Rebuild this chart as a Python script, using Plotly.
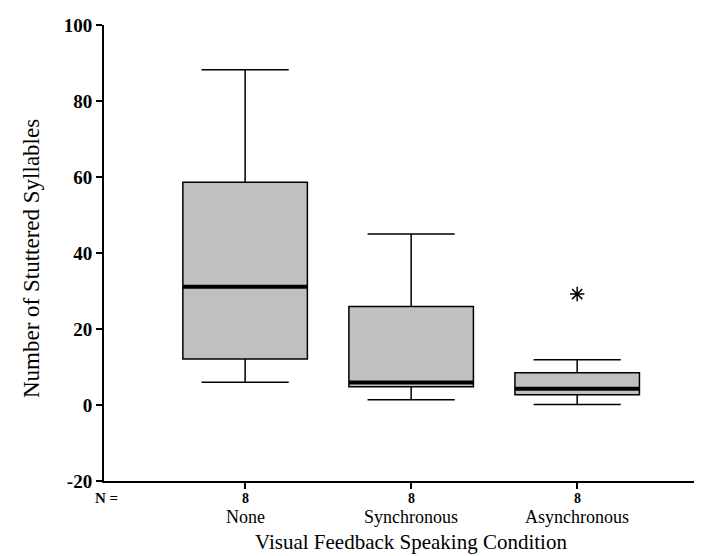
import plotly.graph_objects as go

categories = ["None", "Synchronous", "Asynchronous"]
n_counts = [8, 8, 8]
lower_whisker = [6.0, 1.4, 0.1]
q1_values = [12.1, 4.8, 2.7]
medians = [31.1, 5.9, 4.3]
q3_values = [58.6, 25.9, 8.5]
upper_whisker = [88.2, 45.0, 11.9]
outlier_cat = [2]
outlier_vals = [29.2]
y_ticks = [-20, 0, 20, 40, 60, 80, 100]
y_tick_text = ["-20", "0", "20", "40", "60", "80", "100"]

BOX_W = 0.75
SERIF = "Liberation Serif"

fig = go.Figure()
for i, name in enumerate(categories):
    fig.add_trace(go.Box(
        x=[i], q1=[q1_values[i]], median=[medians[i]], q3=[q3_values[i]],
        lowerfence=[lower_whisker[i]], upperfence=[upper_whisker[i]],
        width=BOX_W, whiskerwidth=0.7, boxpoints=False,
        fillcolor="#c0c0c0", line=dict(color="black", width=1.5),
        showlegend=False, hoverinfo="skip"))
    fig.add_trace(go.Scatter(
        x=[i - BOX_W / 2, i + BOX_W / 2], y=[medians[i], medians[i]],
        mode="lines", line=dict(color="black", width=4),
        showlegend=False, hoverinfo="skip"))

fig.add_trace(go.Scatter(
    x=outlier_cat, y=outlier_vals, mode="markers",
    marker=dict(symbol="asterisk-open", size=12, color="black",
                line=dict(color="black", width=1.5)),
    showlegend=False, hoverinfo="skip"))

annotations = []
for i, (name, n) in enumerate(zip(categories, n_counts)):
    annotations.append(dict(x=i, xref="x", xanchor="center", y=0, yref="paper",
                            yanchor="middle", yshift=-17, text=f"<b>{n}</b>",
                            showarrow=False,
                            font=dict(family=SERIF, size=14, color="black")))
    annotations.append(dict(x=i, xref="x", xanchor="center", y=0, yref="paper",
                            yanchor="middle", yshift=-36, text=name,
                            showarrow=False,
                            font=dict(family=SERIF, size=18, color="black")))
annotations.append(dict(x=0, xref="paper", xanchor="center", xshift=2, y=0,
                        yref="paper", yanchor="middle", yshift=-17,
                        text="<b>N =</b>", showarrow=False,
                        font=dict(family=SERIF, size=15, color="black")))
annotations.append(dict(x=1, xref="x", xanchor="center", y=0, yref="paper",
                        yanchor="middle", yshift=-61,
                        text="Visual Feedback Speaking Condition",
                        showarrow=False,
                        font=dict(family=SERIF, size=21, color="black")))
annotations.append(dict(x=0, xref="paper", xanchor="center", xshift=-73,
                        y=0.5, yref="paper", yanchor="middle", yshift=-6,
                        textangle=-90, text="Number of Stuttered Syllables",
                        showarrow=False,
                        font=dict(family=SERIF, size=23, color="black")))

fig.update_layout(
    width=702, height=556,
    margin=dict(l=96, r=0, t=17, b=83),
    plot_bgcolor="white", paper_bgcolor="white",
    font=dict(family=SERIF, color="black"),
    annotations=annotations,
    xaxis=dict(range=[-0.85, 2.80], tickvals=[0, 1, 2], ticktext=["", "", ""],
               showline=True, linecolor="black", linewidth=2,
               ticks="outside", ticklen=6, tickwidth=2, tickcolor="black",
               showgrid=False, zeroline=False),
    yaxis=dict(range=[-20, 100], tickvals=y_ticks, ticktext=y_tick_text,
               showline=True, linecolor="black", linewidth=2,
               ticks="outside", ticklen=6, tickwidth=2, tickcolor="black",
               showgrid=False, zeroline=False,
               tickfont=dict(family=SERIF, size=19, color="black", weight="bold")),
)

fig.write_html("out.html")
